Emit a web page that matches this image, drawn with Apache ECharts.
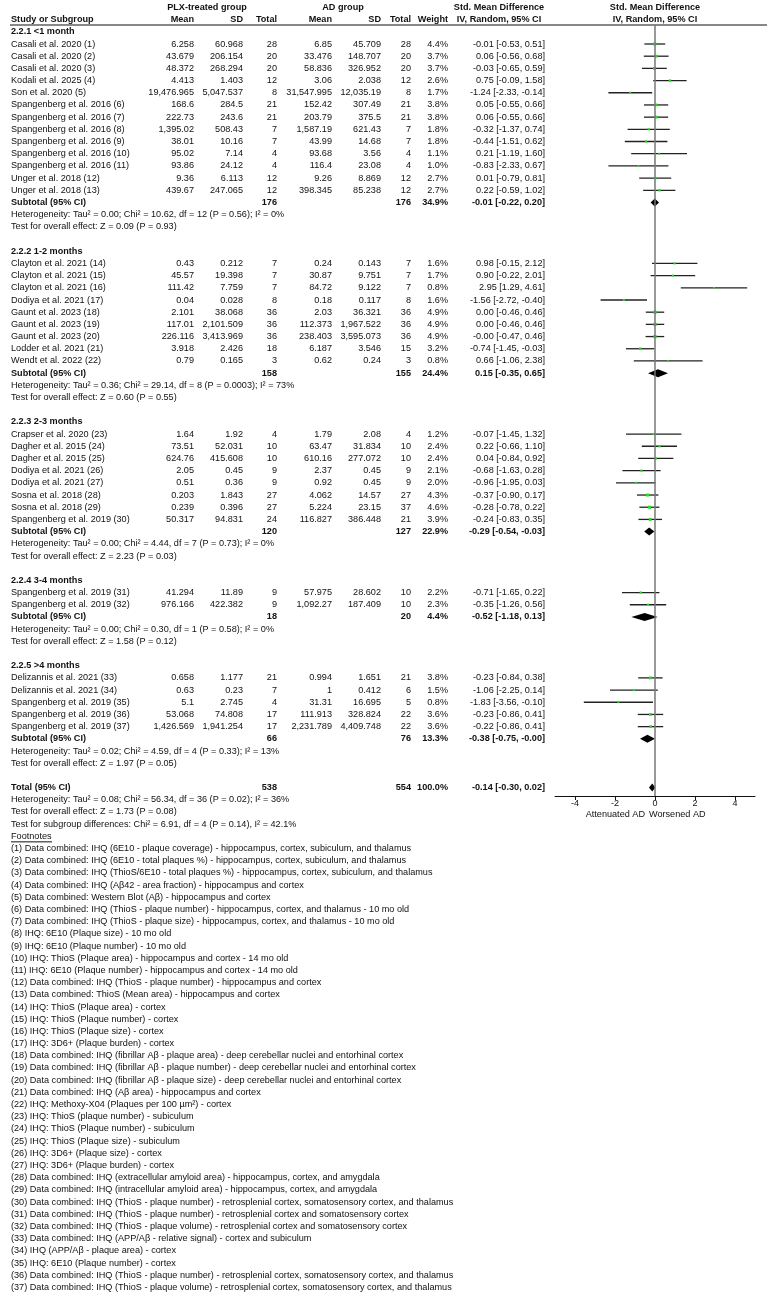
<!DOCTYPE html>
<html>
<head>
<meta charset="utf-8">
<script src="https://cdn.jsdelivr.net/npm/echarts@6/dist/echarts.min.js"></script>
<style>
  html, body { margin: 0; padding: 0; background: #fff; }
  #chart { width: 767px; height: 1293px; }
</style>
</head>
<body>
<div id="chart"></div>
<script>
// ---- data ----
const groupNames = ['2.2.1 <1 month', '2.2.2 1-2 months', '2.2.3 2-3 months', '2.2.4 3-4 months', '2.2.5 >4 months']
const groupSizes = [13, 9, 8, 2, 5]

const studyNames = [
  'Casali et al. 2020 (1)', 'Casali et al. 2020 (2)', 'Casali et al. 2020 (3)', 'Kodali et al. 2025 (4)',
  'Son et al. 2020 (5)', 'Spangenberg et al. 2016 (6)', 'Spangenberg et al. 2016 (7)', 'Spangenberg et al. 2016 (8)',
  'Spangenberg et al. 2016 (9)', 'Spangenberg et al. 2016 (10)', 'Spangenberg et al. 2016 (11)', 'Unger et al. 2018 (12)',
  'Unger et al. 2018 (13)',
  'Clayton et al. 2021 (14)', 'Clayton et al. 2021 (15)', 'Clayton et al. 2021 (16)', 'Dodiya et al. 2021 (17)',
  'Gaunt et al. 2023 (18)', 'Gaunt et al. 2023 (19)', 'Gaunt et al. 2023 (20)', 'Lodder et al. 2021 (21)',
  'Wendt et al. 2022 (22)',
  'Crapser et al. 2020 (23)', 'Dagher et al. 2015 (24)', 'Dagher et al. 2015 (25)', 'Dodiya et al. 2021 (26)',
  'Dodiya et al. 2021 (27)', 'Sosna et al. 2018 (28)', 'Sosna et al. 2018 (29)', 'Spangenberg et al. 2019 (30)',
  'Spangenberg et al. 2019 (31)', 'Spangenberg et al. 2019 (32)',
  'Delizannis et al. 2021 (33)', 'Delizannis et al. 2021 (34)', 'Spangenberg et al. 2019 (35)',
  'Spangenberg et al. 2019 (36)', 'Spangenberg et al. 2019 (37)'
]
const plxMean = [6.258, 43.679, 48.372, 4.413, 19476.965, 168.6, 222.73, 1395.02, 38.01, 95.02, 93.86, 9.36, 439.67,
  0.43, 45.57, 111.42, 0.04, 2.101, 117.01, 226.116, 3.918, 0.79,
  1.64, 73.51, 624.76, 2.05, 0.51, 0.203, 0.239, 50.317,
  41.294, 976.166,
  0.658, 0.63, 5.1, 53.068, 1426.569]
const plxSD = [60.968, 206.154, 268.294, 1.403, 5047.537, 284.5, 243.6, 508.43, 10.16, 7.14, 24.12, 6.113, 247.065,
  0.212, 19.398, 7.759, 0.028, 38.068, 2101.509, 3413.969, 2.426, 0.165,
  1.92, 52.031, 415.608, 0.45, 0.36, 1.843, 0.396, 94.831,
  11.89, 422.382,
  1.177, 0.23, 2.745, 74.808, 1941.254]
const plxN = [28, 20, 20, 12, 8, 21, 21, 7, 7, 4, 4, 12, 12,
  7, 7, 7, 8, 36, 36, 36, 18, 3,
  4, 10, 10, 9, 9, 27, 27, 24,
  9, 9,
  21, 7, 4, 17, 17]
const adMean = [6.85, 33.476, 58.836, 3.06, 31547.995, 152.42, 203.79, 1587.19, 43.99, 93.68, 116.4, 9.26, 398.345,
  0.24, 30.87, 84.72, 0.18, 2.03, 112.373, 238.403, 6.187, 0.62,
  1.79, 63.47, 610.16, 2.37, 0.92, 4.062, 5.224, 116.827,
  57.975, 1092.27,
  0.994, 1, 31.31, 111.913, 2231.789]
const adSD = [45.709, 148.707, 326.952, 2.038, 12035.19, 307.49, 375.5, 621.43, 14.68, 3.56, 23.08, 8.869, 85.238,
  0.143, 9.751, 9.122, 0.117, 36.321, 1967.522, 3595.073, 3.546, 0.24,
  2.08, 31.834, 277.072, 0.45, 0.45, 14.57, 23.15, 386.448,
  28.602, 187.409,
  1.651, 0.412, 16.695, 328.824, 4409.748]
const adN = [28, 20, 20, 12, 8, 21, 21, 7, 7, 4, 4, 12, 12,
  7, 7, 7, 8, 36, 36, 36, 15, 3,
  4, 10, 10, 9, 9, 27, 37, 21,
  10, 10,
  21, 6, 5, 22, 22]
const weight = [4.4, 3.7, 3.7, 2.6, 1.7, 3.8, 3.8, 1.8, 1.8, 1.1, 1.0, 2.7, 2.7,
  1.6, 1.7, 0.8, 1.6, 4.9, 4.9, 4.9, 3.2, 0.8,
  1.2, 2.4, 2.4, 2.1, 2.0, 4.3, 4.6, 3.9,
  2.2, 2.3,
  3.8, 1.5, 0.8, 3.6, 3.6]
const smd = [-0.01, 0.06, -0.03, 0.75, -1.24, 0.05, 0.06, -0.32, -0.44, 0.21, -0.83, 0.01, 0.22,
  0.98, 0.90, 2.95, -1.56, 0.00, 0.00, -0.001, -0.74, 0.66,
  -0.07, 0.22, 0.04, -0.68, -0.96, -0.37, -0.28, -0.24,
  -0.71, -0.35,
  -0.23, -1.06, -1.83, -0.23, -0.22]
const ciLow = [-0.53, -0.56, -0.65, -0.09, -2.33, -0.55, -0.55, -1.37, -1.51, -1.19, -2.33, -0.79, -0.59,
  -0.15, -0.22, 1.29, -2.72, -0.46, -0.46, -0.47, -1.45, -1.06,
  -1.45, -0.66, -0.84, -1.63, -1.95, -0.90, -0.78, -0.83,
  -1.65, -1.26,
  -0.84, -2.25, -3.56, -0.86, -0.86]
const ciHigh = [0.51, 0.68, 0.59, 1.58, -0.14, 0.66, 0.66, 0.74, 0.62, 1.60, 0.67, 0.81, 1.02,
  2.12, 2.01, 4.61, -0.40, 0.46, 0.46, 0.46, -0.03, 2.38,
  1.32, 1.10, 0.92, 0.28, 0.03, 0.17, 0.22, 0.35,
  0.22, 0.56,
  0.38, 0.14, -0.10, 0.41, 0.41]

const subPlxN = [176, 158, 120, 18, 66]
const subAdN = [176, 155, 127, 20, 76]
const subWeight = [34.9, 24.4, 22.9, 4.4, 13.3]
const subSmd = [-0.01, 0.15, -0.29, -0.52, -0.38]
const subLow = [-0.22, -0.35, -0.54, -1.18, -0.75]
const subHigh = [0.20, 0.65, -0.03, 0.13, -0.001]
const subHet = [
  'Heterogeneity: Tau² = 0.00; Chi² = 10.62, df = 12 (P = 0.56); I² = 0%',
  'Heterogeneity: Tau² = 0.36; Chi² = 29.14, df = 8 (P = 0.0003); I² = 73%',
  'Heterogeneity: Tau² = 0.00; Chi² = 4.44, df = 7 (P = 0.73); I² = 0%',
  'Heterogeneity: Tau² = 0.00; Chi² = 0.30, df = 1 (P = 0.58); I² = 0%',
  'Heterogeneity: Tau² = 0.02; Chi² = 4.59, df = 4 (P = 0.33); I² = 13%'
]
const subTest = [
  'Test for overall effect: Z = 0.09 (P = 0.93)',
  'Test for overall effect: Z = 0.60 (P = 0.55)',
  'Test for overall effect: Z = 2.23 (P = 0.03)',
  'Test for overall effect: Z = 1.58 (P = 0.12)',
  'Test for overall effect: Z = 1.97 (P = 0.05)'
]

const totalPlxN = 538
const totalAdN = 554
const totalWeight = 100.0
const totalSmd = -0.14
const totalLow = -0.30
const totalHigh = 0.02
const totalNotes = [
  'Heterogeneity: Tau² = 0.08; Chi² = 56.34, df = 36 (P = 0.02); I² = 36%',
  'Test for overall effect: Z = 1.73 (P = 0.08)',
  'Test for subgroup differences: Chi² = 6.91, df = 4 (P = 0.14), I² = 42.1%'
]

const axisTicks = [-4, -2, 0, 2, 4]
const axisMin = -5
const axisMax = 5

const footnotes = [
  'Data combined: IHQ (6E10 - plaque coverage) - hippocampus, cortex, subiculum, and thalamus',
  'Data combined: IHQ (6E10 - total plaques %) - hippocampus, cortex, subiculum, and thalamus',
  'Data combined: IHQ (ThioS/6E10 - total plaques %) - hippocampus, cortex, subiculum, and thalamus',
  'Data combined: IHQ (Aβ42 - area fraction) - hippocampus and cortex',
  'Data combined: Western Blot (Aβ) - hippocampus and cortex',
  'Data combined: IHQ (ThioS - plaque number) - hippocampus, cortex, and thalamus - 10 mo old',
  'Data combined: IHQ (ThioS - plaque size) - hippocampus, cortex, and thalamus - 10 mo old',
  'IHQ: 6E10 (Plaque size) - 10 mo old',
  'IHQ: 6E10 (Plaque number) - 10 mo old',
  'IHQ: ThioS (Plaque area) - hippocampus and cortex - 14 mo old',
  'IHQ: 6E10 (Plaque number) - hippocampus and cortex - 14 mo old',
  'Data combined: IHQ (ThioS - plaque number) - hippocampus and cortex',
  'Data combined: ThioS (Mean area) - hippocampus and cortex',
  'IHQ: ThioS (Plaque area) - cortex',
  'IHQ: ThioS (Plaque number) - cortex',
  'IHQ: ThioS (Plaque size) - cortex',
  'IHQ: 3D6+ (Plaque burden) - cortex',
  'Data combined: IHQ (fibrillar Aβ - plaque area) - deep cerebellar nuclei and entorhinal cortex',
  'Data combined: IHQ (fibrillar Aβ - plaque number) - deep cerebellar nuclei and entorhinal cortex',
  'Data combined: IHQ (fibrillar Aβ - plaque size) - deep cerebellar nuclei and entorhinal cortex',
  'Data combined: IHQ (Aβ area) - hippocampus and cortex',
  'IHQ: Methoxy-X04 (Plaques per 100 µm²) - cortex',
  'IHQ: ThioS (plaque number) - subiculum',
  'IHQ: ThioS (Plaque number) - subiculum',
  'IHQ: ThioS (Plaque size) - subiculum',
  'IHQ: 3D6+ (Plaque size) - cortex',
  'IHQ: 3D6+ (Plaque burden) - cortex',
  'Data combined: IHQ (extracellular amyloid area) - hippocampus, cortex, and amygdala',
  'Data combined: IHQ (intracellular amyloid area) - hippocampus, cortex, and amygdala',
  'Data combined: IHQ (ThioS - plaque number) - retrosplenial cortex, somatosensory cortex, and thalamus',
  'Data combined: IHQ (ThioS - plaque number) - retrosplenial cortex and somatosensory cortex',
  'Data combined: IHQ (ThioS - plaque volume) - retrosplenial cortex and somatosensory cortex',
  'Data combined: IHQ (APP/Aβ - relative signal) - cortex and subiculum',
  'IHQ (APP/Aβ - plaque area) - cortex',
  'IHQ: 6E10 (Plaque number) - cortex',
  'Data combined: IHQ (ThioS - plaque number) - retrosplenial cortex, somatosensory cortex, and thalamus',
  'Data combined: IHQ (ThioS - plaque volume) - retrosplenial cortex, somatosensory cortex, and thalamus'
]

// ---- layout ----
const W = 767, H = 1293
const rowY0 = 44      // pixel y of first study row
const rowStep = 12.19 // pixels per row
const fontSize = 9.15
const fontFamily = '"Liberation Sans", Arial, sans-serif'

// column right edges (px)
const col = { name: 11, pMean: 194, pSD: 243, pN: 277, aMean: 332, aSD: 381, aN: 411, wt: 448, ci: 545 }

const numFmt = new Intl.NumberFormat('en-US', { maximumFractionDigits: 3 })
const f2 = v => v.toFixed(2)
const ciText = (e, l, h) => `${f2(e)} [${f2(l)}, ${f2(h)}]`

const texts = []
const addText = (x, r, s, align = 'left', bold = false, extra = {}) => texts.push({ x, r, s, align, bold, ...extra })

// headers
addText(207, -3, 'PLX-treated group', 'center', true)
addText(343, -3, 'AD group', 'center', true)
addText(499, -3, 'Std. Mean Difference', 'center', true)
addText(655, -3, 'Std. Mean Difference', 'center', true)
addText(col.name, -2, 'Study or Subgroup', 'left', true)
addText(col.pMean, -2, 'Mean', 'right', true)
addText(col.pSD, -2, 'SD', 'right', true)
addText(col.pN, -2, 'Total', 'right', true)
addText(col.aMean, -2, 'Mean', 'right', true)
addText(col.aSD, -2, 'SD', 'right', true)
addText(col.aN, -2, 'Total', 'right', true)
addText(col.wt, -2, 'Weight', 'right', true)
addText(499, -2, 'IV, Random, 95% CI', 'center', true)
addText(655, -2, 'IV, Random, 95% CI', 'center', true)

const studyPts = []
const diamonds = []
let r = -1
let si = 0
groupNames.forEach((g, gi) => {
  addText(col.name, r, g, 'left', true)
  r++
  for (let k = 0; k < groupSizes[gi]; k++, si++, r++) {
    addText(col.name, r, studyNames[si])
    addText(col.pMean, r, numFmt.format(plxMean[si]), 'right')
    addText(col.pSD, r, numFmt.format(plxSD[si]), 'right')
    addText(col.pN, r, String(plxN[si]), 'right')
    addText(col.aMean, r, numFmt.format(adMean[si]), 'right')
    addText(col.aSD, r, numFmt.format(adSD[si]), 'right')
    addText(col.aN, r, String(adN[si]), 'right')
    addText(col.wt, r, weight[si].toFixed(1) + '%', 'right')
    addText(col.ci, r, ciText(smd[si], ciLow[si], ciHigh[si]), 'right')
    studyPts.push([smd[si], r, ciLow[si], ciHigh[si], weight[si]])
  }
  addText(col.name, r, 'Subtotal (95% CI)', 'left', true)
  addText(col.pN, r, String(subPlxN[gi]), 'right', true)
  addText(col.aN, r, String(subAdN[gi]), 'right', true)
  addText(col.wt, r, subWeight[gi].toFixed(1) + '%', 'right', true)
  addText(col.ci, r, ciText(subSmd[gi], subLow[gi], subHigh[gi]), 'right', true)
  diamonds.push([subSmd[gi], r, subLow[gi], subHigh[gi]])
  r++
  addText(col.name, r++, subHet[gi])
  addText(col.name, r++, subTest[gi])
  r++
})
addText(col.name, r, 'Total (95% CI)', 'left', true)
addText(col.pN, r, String(totalPlxN), 'right', true)
addText(col.aN, r, String(totalAdN), 'right', true)
addText(col.wt, r, totalWeight.toFixed(1) + '%', 'right', true)
addText(col.ci, r, ciText(totalSmd, totalLow, totalHigh), 'right', true)
diamonds.push([totalSmd, r, totalLow, totalHigh])
r++
totalNotes.forEach(t => addText(col.name, r++, t))
addText(col.name, r++, 'Footnotes', 'left', false, { underline: true })
footnotes.forEach((t, i) => addText(col.name, r++, `(${i + 1}) ${t}`))

// favour labels under the axis
const axisY = 796
const favourR = (814 - rowY0) / rowStep
addText(645, favourR, 'Attenuated AD', 'right')
addText(649, favourR, 'Worsened AD', 'left')

const pxToRow = y => (y - rowY0) / rowStep
const plotTop = 25

const chart = echarts.init(document.getElementById('chart'), null, { renderer: 'canvas' })

chart.setOption({
  animation: false,
  backgroundColor: '#fff',
  grid: [
    { left: 0, right: 0, top: 0, bottom: 0 },
    { left: 555, width: 200, top: plotTop, bottom: H - axisY }
  ],
  xAxis: [
    { gridIndex: 0, type: 'value', min: 0, max: W, show: false },
    {
      gridIndex: 1, type: 'value', min: axisMin, max: axisMax,
      splitLine: { show: false },
      axisLine: { onZero: false, lineStyle: { color: '#111', width: 1 } },
      axisTick: { customValues: axisTicks, length: 4, lineStyle: { color: '#111' } },
      axisLabel: { customValues: axisTicks, color: '#111', fontSize: 9, margin: 3, fontFamily }
    }
  ],
  yAxis: [
    { gridIndex: 0, type: 'value', inverse: true, min: pxToRow(0), max: pxToRow(H), show: false },
    { gridIndex: 1, type: 'value', inverse: true, min: pxToRow(plotTop), max: pxToRow(axisY), show: false }
  ],
  series: [
    {
      // header rule
      type: 'line', xAxisIndex: 0, yAxisIndex: 0, silent: true,
      symbol: 'none',
      lineStyle: { color: '#888', width: 2 },
      data: [[10, pxToRow(plotTop)], [W, pxToRow(plotTop)]]
    },
    {
      type: 'custom', xAxisIndex: 0, yAxisIndex: 0, silent: true, clip: false,
      data: texts.map(t => [t.x, t.r]),
      renderItem: (params, api) => {
        const t = texts[params.dataIndex]
        const p = api.coord([api.value(0), api.value(1)])
        const txt = {
          type: 'text', x: p[0], y: p[1],
          style: {
            text: t.s, fill: '#111', fontSize, fontFamily,
            fontWeight: t.bold ? 'bold' : 'normal',
            align: t.align, verticalAlign: 'middle'
          }
        }
        if (!t.underline) return txt
        return {
          type: 'group',
          children: [txt, {
            type: 'line',
            shape: { x1: p[0], y1: p[1] + 5.5, x2: p[0] + 41, y2: p[1] + 5.5 },
            style: { stroke: '#111', lineWidth: 1 }
          }]
        }
      }
    },
    {
      // study CIs and weight squares
      type: 'custom', xAxisIndex: 1, yAxisIndex: 1, silent: true,
      data: studyPts,
      encode: { x: [0, 2, 3], y: 1 },
      renderItem: (params, api) => {
        const e = api.coord([api.value(0), api.value(1)])
        const lo = api.coord([api.value(2), api.value(1)])
        const hi = api.coord([api.value(3), api.value(1)])
        const s = 1.5 + api.value(4) * 0.35
        return {
          type: 'group',
          children: [
            { type: 'line', shape: { x1: lo[0], y1: lo[1], x2: hi[0], y2: hi[1] }, style: { stroke: '#222', lineWidth: 1.3 } },
            { type: 'rect', shape: { x: e[0] - s / 2, y: e[1] - s / 2, width: s, height: s }, style: { fill: '#1ee01e' } }
          ]
        }
      },
      markLine: {
        silent: true, symbol: 'none', label: { show: false },
        lineStyle: { color: '#777', width: 1.5, type: 'solid' },
        data: [{ xAxis: 0 }]
      }
    },
    {
      // pooled diamonds
      type: 'custom', xAxisIndex: 1, yAxisIndex: 1, silent: true,
      data: diamonds,
      encode: { x: [0, 2, 3], y: 1 },
      renderItem: (params, api) => {
        const e = api.coord([api.value(0), api.value(1)])
        const lo = api.coord([api.value(2), api.value(1)])
        const hi = api.coord([api.value(3), api.value(1)])
        const h = 4
        return {
          type: 'polygon',
          shape: { points: [[lo[0], e[1]], [e[0], e[1] - h], [hi[0], e[1]], [e[0], e[1] + h]] },
          style: { fill: '#000' }
        }
      }
    }
  ]
})
</script>
</body>
</html>
